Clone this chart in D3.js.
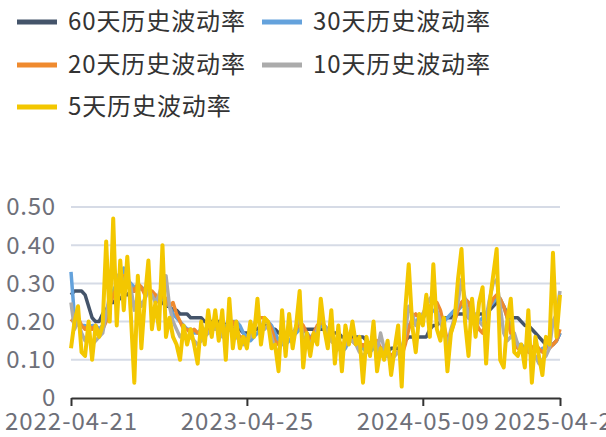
<!DOCTYPE html>
<html>
<head>
<meta charset="utf-8">
<script src="https://cdn.jsdelivr.net/npm/d3@7"></script>
<style>
  body { margin: 0; background: #fff; }
  svg text { font-family: "Noto Sans CJK SC", "Noto Sans", sans-serif; }
</style>
</head>
<body>
<script>
// 历史波动率, 每个点一个观察日, 共 140 个
let seriesNames = ["60天历史波动率", "30天历史波动率", "20天历史波动率", "10天历史波动率", "5天历史波动率"];
let seriesColors = ["#44546a", "#64a2dc", "#ef8a2e", "#ababab", "#f3c700"];

let tickIndex = [0, 50, 100, 139];
let tickLabels = ["2022-04-21", "2023-04-25", "2024-05-09", "2025-04-21"];
let yTicks = [0, 0.1, 0.2, 0.3, 0.4, 0.5];

let vol60 = [
  0.27,0.28,0.28,0.28,0.27,0.24,0.21,0.20,0.20,0.22,
  0.23,0.25,0.25,0.26,0.26,0.27,0.27,0.28,0.28,0.29,
  0.29,0.28,0.28,0.27,0.26,0.26,0.25,0.24,0.24,0.23,
  0.23,0.22,0.22,0.22,0.21,0.21,0.21,0.21,0.20,0.20,
  0.20,0.20,0.20,0.20,0.19,0.19,0.18,0.18,0.18,0.17,
  0.17,0.17,0.18,0.18,0.19,0.19,0.19,0.18,0.18,0.17,
  0.17,0.17,0.17,0.17,0.18,0.18,0.18,0.18,0.18,0.18,
  0.18,0.18,0.18,0.18,0.17,0.17,0.17,0.16,0.16,0.16,
  0.16,0.16,0.16,0.16,0.15,0.14,0.14,0.13,0.13,0.13,
  0.12,0.13,0.13,0.13,0.13,0.15,0.16,0.16,0.16,0.16,
  0.16,0.16,0.18,0.19,0.19,0.20,0.21,0.21,0.21,0.22,
  0.22,0.22,0.22,0.21,0.21,0.21,0.22,0.22,0.22,0.23,
  0.24,0.25,0.25,0.24,0.22,0.21,0.21,0.21,0.20,0.19,
  0.19,0.18,0.17,0.16,0.15,0.14,0.14,0.14,0.15,0.17
];
let vol30 = [
  0.33,0.21,0.20,0.19,0.19,0.18,0.19,0.19,0.18,0.19,
  0.21,0.25,0.28,0.30,0.32,0.34,0.31,0.30,0.29,0.28,
  0.29,0.28,0.28,0.27,0.27,0.26,0.26,0.25,0.24,0.22,
  0.21,0.20,0.19,0.18,0.18,0.17,0.17,0.18,0.18,0.17,
  0.18,0.18,0.19,0.19,0.19,0.19,0.20,0.20,0.19,0.17,
  0.16,0.15,0.16,0.17,0.18,0.20,0.20,0.19,0.17,0.15,
  0.14,0.14,0.15,0.16,0.17,0.18,0.18,0.17,0.16,0.15,
  0.17,0.19,0.19,0.18,0.17,0.15,0.13,0.12,0.13,0.15,
  0.15,0.14,0.13,0.13,0.12,0.12,0.13,0.13,0.12,0.11,
  0.11,0.11,0.12,0.12,0.13,0.16,0.19,0.20,0.20,0.21,
  0.21,0.22,0.23,0.23,0.22,0.21,0.20,0.21,0.22,0.23,
  0.23,0.24,0.24,0.23,0.22,0.20,0.20,0.21,0.22,0.24,
  0.25,0.26,0.26,0.24,0.21,0.19,0.16,0.14,0.14,0.13,
  0.13,0.13,0.13,0.12,0.13,0.13,0.14,0.14,0.15,0.17
];
let vol20 = [
  0.20,0.21,0.21,0.19,0.18,0.19,0.18,0.19,0.17,0.18,
  0.20,0.24,0.27,0.29,0.31,0.32,0.30,0.29,0.28,0.30,
  0.29,0.27,0.28,0.28,0.27,0.25,0.27,0.26,0.24,0.25,
  0.22,0.20,0.18,0.18,0.17,0.18,0.17,0.17,0.17,0.18,
  0.18,0.19,0.19,0.17,0.18,0.19,0.20,0.18,0.16,0.16,
  0.15,0.17,0.19,0.21,0.21,0.21,0.20,0.18,0.15,0.14,
  0.15,0.16,0.18,0.17,0.18,0.20,0.19,0.17,0.15,0.17,
  0.19,0.20,0.19,0.17,0.15,0.14,0.15,0.14,0.14,0.16,
  0.15,0.14,0.13,0.14,0.13,0.14,0.14,0.15,0.13,0.12,
  0.12,0.11,0.12,0.12,0.11,0.14,0.18,0.21,0.22,0.21,
  0.22,0.23,0.24,0.25,0.25,0.23,0.19,0.15,0.17,0.20,
  0.23,0.25,0.26,0.25,0.22,0.20,0.18,0.17,0.20,0.24,
  0.26,0.27,0.26,0.24,0.21,0.17,0.15,0.13,0.13,0.13,
  0.12,0.13,0.14,0.13,0.12,0.13,0.13,0.14,0.15,0.18
];
let vol10 = [
  0.25,0.18,0.20,0.17,0.15,0.16,0.14,0.15,0.16,0.17,
  0.22,0.27,0.35,0.31,0.33,0.30,0.32,0.29,0.23,0.27,
  0.24,0.26,0.28,0.27,0.25,0.27,0.30,0.32,0.24,0.20,
  0.18,0.16,0.17,0.15,0.16,0.15,0.14,0.15,0.16,0.17,
  0.18,0.18,0.18,0.16,0.17,0.18,0.17,0.16,0.15,0.14,
  0.15,0.16,0.19,0.21,0.19,0.18,0.19,0.16,0.13,0.12,
  0.15,0.15,0.17,0.16,0.19,0.21,0.16,0.15,0.14,0.16,
  0.18,0.21,0.19,0.17,0.15,0.14,0.13,0.12,0.14,0.15,
  0.15,0.14,0.12,0.11,0.12,0.13,0.14,0.12,0.17,0.13,
  0.11,0.10,0.11,0.12,0.12,0.17,0.24,0.22,0.19,0.20,
  0.22,0.24,0.26,0.27,0.23,0.20,0.17,0.14,0.18,0.21,
  0.25,0.31,0.26,0.21,0.20,0.22,0.20,0.19,0.21,0.26,
  0.30,0.31,0.24,0.17,0.15,0.16,0.17,0.14,0.12,0.13,
  0.14,0.10,0.11,0.09,0.10,0.11,0.13,0.20,0.22,0.28
];
let vol5 = [
  0.13,0.20,0.24,0.12,0.11,0.20,0.10,0.19,0.16,0.19,
  0.41,0.20,0.47,0.19,0.36,0.23,0.37,0.22,0.04,0.32,
  0.13,0.26,0.36,0.18,0.25,0.18,0.40,0.16,0.21,0.16,
  0.14,0.10,0.19,0.14,0.18,0.14,0.09,0.20,0.14,0.23,
  0.16,0.23,0.15,0.23,0.10,0.26,0.13,0.20,0.13,0.16,
  0.13,0.20,0.16,0.26,0.14,0.21,0.20,0.13,0.14,0.07,
  0.23,0.11,0.22,0.13,0.19,0.28,0.08,0.17,0.11,0.17,
  0.14,0.26,0.18,0.13,0.23,0.09,0.19,0.07,0.19,0.14,
  0.20,0.14,0.16,0.04,0.16,0.11,0.20,0.07,0.13,0.10,
  0.15,0.06,0.13,0.19,0.03,0.23,0.35,0.19,0.12,0.22,
  0.19,0.27,0.16,0.35,0.18,0.15,0.21,0.07,0.17,0.20,
  0.31,0.39,0.20,0.11,0.26,0.16,0.25,0.29,0.09,0.25,
  0.32,0.39,0.10,0.08,0.20,0.26,0.12,0.11,0.14,0.08,
  0.23,0.04,0.16,0.11,0.06,0.16,0.14,0.38,0.16,0.27
];

let allSeries = [vol60, vol30, vol20, vol10, vol5];

let WIDTH = 606, HEIGHT = 437;
let svg = d3.select("body").append("svg")
            .attr("width", WIDTH)
            .attr("height", HEIGHT);

let x = d3.scaleLinear().domain([0, vol5.length - 1]).range([71, 560]);
let y = d3.scaleLinear().domain([0, 0.5]).range([398, 207]);

// 网格线
svg.append("g")
   .selectAll("line")
   .data(yTicks.filter(t => t > 0))
   .enter().append("line")
     .attr("x1", x(0)).attr("x2", x(vol5.length - 1))
     .attr("y1", d => y(d)).attr("y2", d => y(d))
     .attr("stroke", "#d6dbe6")
     .attr("stroke-width", 2);

// y 轴标签
svg.append("g")
   .selectAll("text")
   .data(yTicks)
   .enter().append("text")
     .attr("x", 56)
     .attr("y", d => y(d))
     .attr("dy", "0.35em")
     .attr("text-anchor", "end")
     .attr("font-size", 24)
     .attr("letter-spacing", 0.8)
     .attr("fill", "#6e7079")
     .text(d => d === 0 ? "0" : d.toFixed(2));

// 折线
let line = d3.line()
             .x((d, i) => x(i))
             .y(d => y(d));

svg.append("g")
   .selectAll("path")
   .data(allSeries)
   .enter().append("path")
     .attr("d", d => line(d))
     .attr("fill", "none")
     .attr("stroke", (d, i) => seriesColors[i])
     .attr("stroke-width", (d, i) => i === 4 ? 4 : 3.5)
     .attr("stroke-linejoin", "round");

// x 轴
let xAxis = d3.axisBottom(x)
              .tickValues(tickIndex)
              .tickFormat((d, i) => tickLabels[i])
              .tickSize(8)
              .tickPadding(7)
              .tickSizeOuter(0);

let gx = svg.append("g")
            .attr("transform", `translate(0,${y(0)})`)
            .call(xAxis);
gx.select(".domain").attr("stroke", "#333").attr("stroke-width", 2);
gx.selectAll(".tick line").attr("stroke", "#333").attr("stroke-width", 2);
gx.selectAll(".tick text")
  .attr("font-size", 24)
  .attr("letter-spacing", 1)
  .attr("fill", "#6e7079")
  .style("font-family", '"Noto Sans CJK SC", sans-serif');

// 图例
let legendPos = [[17, 22], [262, 22], [17, 65], [262, 65], [17, 107]];
let legend = svg.append("g")
                .selectAll("g")
                .data(seriesNames)
                .enter().append("g")
                  .attr("transform", (d, i) => `translate(${legendPos[i][0]},${legendPos[i][1]})`);

legend.append("rect")
      .attr("x", 0).attr("y", -2.5)
      .attr("width", 40).attr("height", 5)
      .attr("fill", (d, i) => seriesColors[i]);

legend.append("text")
      .attr("x", 51)
      .attr("dy", "0.35em")
      .attr("font-size", 24)
      .attr("letter-spacing", 0.9)
      .attr("fill", "#333")
      .text(d => d);
</script>
</body>
</html>
